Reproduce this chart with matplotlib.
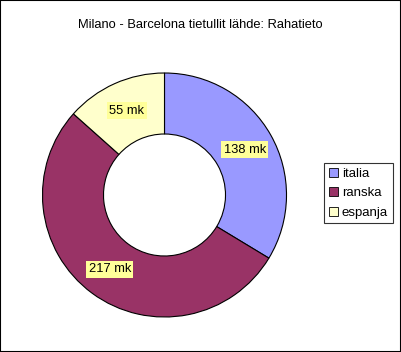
import matplotlib.pyplot as plt
from matplotlib.patches import Rectangle

plt.rcParams['font.family'] = ['Liberation Sans', 'DejaVu Sans']

# data
countries = ['italia', 'ranska', 'espanja']
tolls = [138, 217, 55]
colors = ['#9999FF', '#993366', '#FFFFCC']
title = 'Milano - Barcelona tietullit lähde: Rahatieto'

W, H = 401, 352
fig = plt.figure(figsize=(W / 100, H / 100), dpi=100)
# outer frame, half of the line is clipped -> 1px border
fig.patches.append(Rectangle((0, 0), 1, 1, transform=fig.transFigure, fill=False,
                             edgecolor='black', linewidth=1.5))

# donut: centre ~(164.5, 195) px, radius ~122 px
cx, cy, r = 164.5, 195, 122
ax = fig.add_axes([(cx - r) / W, (H - cy - r) / H, 2 * r / W, 2 * r / H])
wedges, texts, autotexts = ax.pie(
    tolls, colors=colors, startangle=90, counterclock=False, radius=1.0,
    wedgeprops=dict(width=0.5, edgecolor='black', linewidth=0.8),
    autopct=lambda p: '%d mk' % round(p * sum(tolls) / 100),
    pctdistance=0.755)
for t in autotexts:
    t.set_fontsize(9.3)
    t.set_color('black')
    t.set_bbox(dict(facecolor='#FFFF99', edgecolor='none', pad=1.8))
ax.set_xlim(-1, 1)
ax.set_ylim(-1, 1)
ax.set_aspect('equal')
ax.axis('off')

fig.text(0.5, 1 - 25 / H, title, ha='center', va='center', fontsize=9.3)

leg = fig.legend(wedges, countries, loc='upper left',
                 bbox_to_anchor=(324 / W, 1 - 163 / H), fontsize=9.5,
                 frameon=True, fancybox=False, handlelength=0.7, handleheight=0.7,
                 handletextpad=0.3, labelspacing=0.55, borderpad=0.35,
                 borderaxespad=0)
leg.get_frame().set_edgecolor('black')
leg.get_frame().set_linewidth(0.8)
for h in leg.legend_handles:
    h.set_linewidth(0.6)

fig.savefig('out.png', dpi=100)
